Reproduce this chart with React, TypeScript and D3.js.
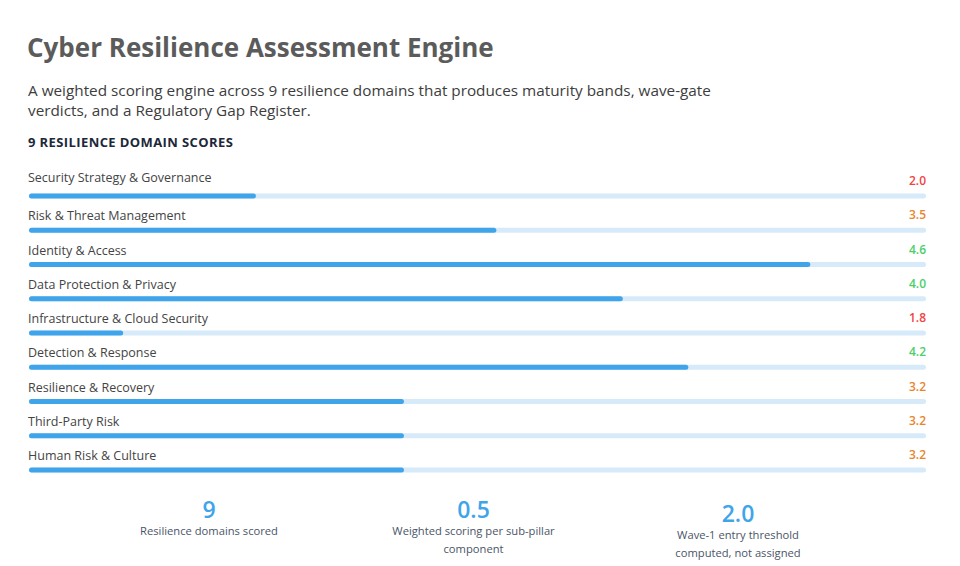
import React, { useEffect, useRef } from 'react';
import * as d3 from 'd3';

const domains = [
  'Security Strategy & Governance',
  'Risk & Threat Management',
  'Identity & Access',
  'Data Protection & Privacy',
  'Infrastructure & Cloud Security',
  'Detection & Response',
  'Resilience & Recovery',
  'Third-Party Risk',
  'Human Risk & Culture',
];

// score shown on the right of each row
const scores = [2.0, 3.5, 4.6, 4.0, 1.8, 4.2, 3.2, 3.2, 3.2];

// how far each bar is filled, in percent of the track
const barFill = [25.3, 52.1, 87.1, 66.2, 10.5, 73.5, 41.8, 41.8, 41.8];

const statValues = ['9', '0.5', '2.0'];
const statLabels = [
  ['Resilience domains scored'],
  ['Weighted scoring per sub-pillar', 'component'],
  ['Wave-1 entry threshold', 'computed, not assigned'],
];

const FONT = '"Open Sans", Lato, sans-serif';

function scoreColor(v: number) {
  if (v < 3) return '#ef4444';
  if (v < 4) return '#e8852b';
  return '#4ccf6b';
}

export default function App() {
  const svgRef = useRef<SVGSVGElement>(null);

  useEffect(() => {
    document.body.style.margin = '0';
    if (!svgRef.current) return;

    const svg = d3.select(svgRef.current);
    svg.selectAll('*').remove();

    const left = 29;
    const right = 926;

    // header
    svg.append('text')
      .attr('x', 27).attr('y', 57)
      .attr('font-family', FONT).attr('font-size', 26).attr('font-weight', 700)
      .attr('fill', '#5b5b5b')
      .text('Cyber Resilience Assessment Engine');

    const sub = [
      'A weighted scoring engine across 9 resilience domains that produces maturity bands, wave-gate',
      'verdicts, and a Regulatory Gap Register.',
    ];
    svg.append('g').selectAll('text')
      .data(sub)
      .enter()
      .append('text')
      .attr('x', 28)
      .attr('y', (_, i) => 96 + i * 20)
      .attr('font-family', FONT).attr('font-size', 15.3)
      .attr('fill', '#3d3d3d')
      .text(d => d);

    svg.append('text')
      .attr('x', 28).attr('y', 147)
      .attr('font-family', FONT).attr('font-size', 13).attr('font-weight', 700)
      .attr('letter-spacing', 0.4)
      .attr('fill', '#1c2839')
      .text('9 RESILIENCE DOMAIN SCORES');

    // rows
    const y = d3.scalePoint<string>().domain(domains).range([196, 470]);
    const x = d3.scaleLinear().domain([0, 100]).range([left, right]);

    const rows = svg.append('g').selectAll('g')
      .data(domains)
      .enter()
      .append('g')
      .attr('transform', d => `translate(0,${y(d)})`);

    rows.append('rect')
      .attr('x', x(0)).attr('y', -2.5)
      .attr('width', x(100) - x(0)).attr('height', 5)
      .attr('rx', 2.5)
      .attr('fill', '#d6eaf9');

    rows.append('rect')
      .attr('x', x(0)).attr('y', -2.5)
      .attr('width', (_, i) => x(barFill[i]) - x(0)).attr('height', 5)
      .attr('rx', 2.5)
      .attr('fill', '#3fa4ea');

    rows.append('text')
      .attr('x', 28).attr('y', (_, i) => (i === 0 ? -14 : -10))
      .attr('font-family', FONT).attr('font-size', 12.5)
      .attr('fill', '#444')
      .text(d => d);

    rows.append('text')
      .attr('x', right).attr('y', -11)
      .attr('text-anchor', 'end')
      .attr('font-family', FONT).attr('font-size', 12).attr('font-weight', 600)
      .attr('fill', (_, i) => scoreColor(scores[i]))
      .text((_, i) => scores[i].toFixed(1));

    // stats
    const sx = d3.scalePoint<number>().domain([0, 1, 2]).range([209, 738]);
    const stats = svg.append('g').selectAll('g')
      .data(statValues)
      .enter()
      .append('g')
      .attr('transform', (_, i) => `translate(${sx(i)},${i === 2 ? 4 : 0})`);

    stats.append('text')
      .attr('y', 518)
      .attr('text-anchor', 'middle')
      .attr('font-family', FONT).attr('font-size', 23).attr('font-weight', 600)
      .attr('fill', '#3fa4ea')
      .text(d => d);

    stats.each(function (_, i) {
      d3.select(this).selectAll('text.lbl')
        .data(statLabels[i])
        .enter()
        .append('text')
        .attr('class', 'lbl')
        .attr('y', (_, j) => 535 + j * 18)
        .attr('text-anchor', 'middle')
        .attr('font-family', FONT).attr('font-size', 11.2)
        .attr('fill', '#4a5568')
        .text(d => d);
    });
  }, []);

  return <svg ref={svgRef} width={960} height={566} style={{ display: 'block', background: '#fff' }} />;
}
